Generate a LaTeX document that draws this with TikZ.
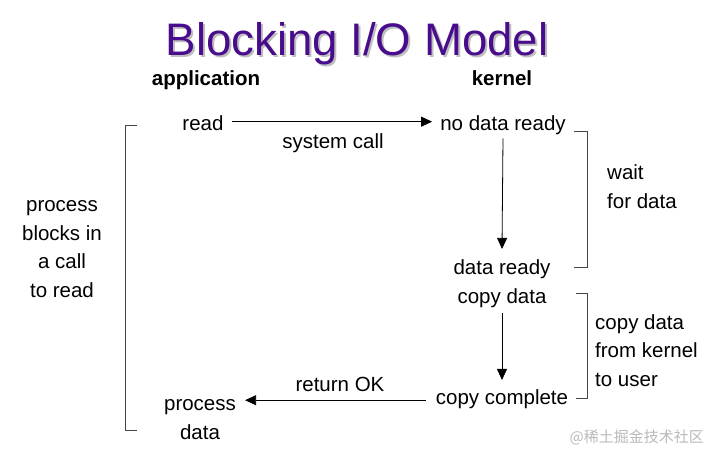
\documentclass[tikz,border=0pt]{standalone}
\usepackage{fontspec}
\setmainfont{Liberation Sans}
\newfontfamily\cjk{Noto Sans CJK SC}
\usetikzlibrary{arrows.meta}
\definecolor{titlepurple}{RGB}{72,12,140}
\definecolor{bracketgray}{RGB}{70,70,70}
\tikzset{
  lbl/.style={font=\fontsize{20.5}{28.5}\selectfont, inner sep=0pt, anchor=base, align=center},
  head/.style={lbl, font=\fontsize{20.5}{28.5}\selectfont\bfseries},
  flow/.style={-{Triangle[length=11pt,width=10pt]}, line width=0.8pt},
  bracket/.style={bracketgray, line width=0.9pt},
}
\begin{document}
\begin{tikzpicture}[x=1pt,y=-1pt]
\useasboundingbox (0,0) rectangle (718,458);
% title with shadow
\node[font=\fontsize{45.6}{50}\selectfont, text=gray!50, inner sep=0pt, anchor=base] at (359,57) {Blocking I/O Model};
\node[font=\fontsize{45.6}{50}\selectfont, text=titlepurple, inner sep=0pt, anchor=base] (title) at (357,55) {Blocking I/O Model};
\node[head] (app) at (206,85) {application};
\node[head] (kern) at (502,85) {kernel};
% application side
\node[lbl] (read) at (203,130) {read};
\node[lbl] (proc) at (200,439) {process\\data};
\node[lbl] (blocks) at (62,297) {process\\blocks in\\a call\\to read};
% kernel side
\node[lbl] (nodata) at (503,130) {no data ready};
\node[lbl] (ready) at (502,274) {data ready};
\node[lbl] (copy) at (502,303) {copy data};
\node[lbl] (done) at (502,404) {copy complete};
\node[lbl] (syscall) at (333,148) {system call};
\node[lbl] (retok) at (340,391) {return OK};
\node[lbl, align=left, anchor=base west] (wait) at (607,208) {wait\\for data};
\node[lbl, align=left, anchor=base west] (cpy) at (595,386) {copy data\\from kernel\\to user};
% arrows
\draw[flow] ([xshift=8pt,yshift=1pt]read.east) -- ([xshift=-8pt,yshift=1pt]read.east -| nodata.west);
\draw[flow] ([yshift=-4pt]nodata.south) -- ([yshift=10pt]ready.north);
\draw[flow] ([yshift=-6pt]copy.south) -- ([yshift=9pt]done.north);
\draw[flow] ([xshift=-10pt,yshift=-1.5pt]done.west) -- ([xshift=9pt,yshift=-1.5pt]done.west -| proc.east);
% brackets
\draw[bracket] (137,125) -| (125,430) -- (137,430);
\draw[bracket] (574,131) -| (587,267) -- (574,267);
\draw[bracket] (576,293) -| (587,398) -- (576,398);
% watermark
\node[font=\cjk\fontsize{15}{18}\selectfont, text=gray!55, inner sep=0pt, anchor=base east] (mark) at (704,442) {@稀土掘金技术社区};
\end{tikzpicture}
\end{document}
